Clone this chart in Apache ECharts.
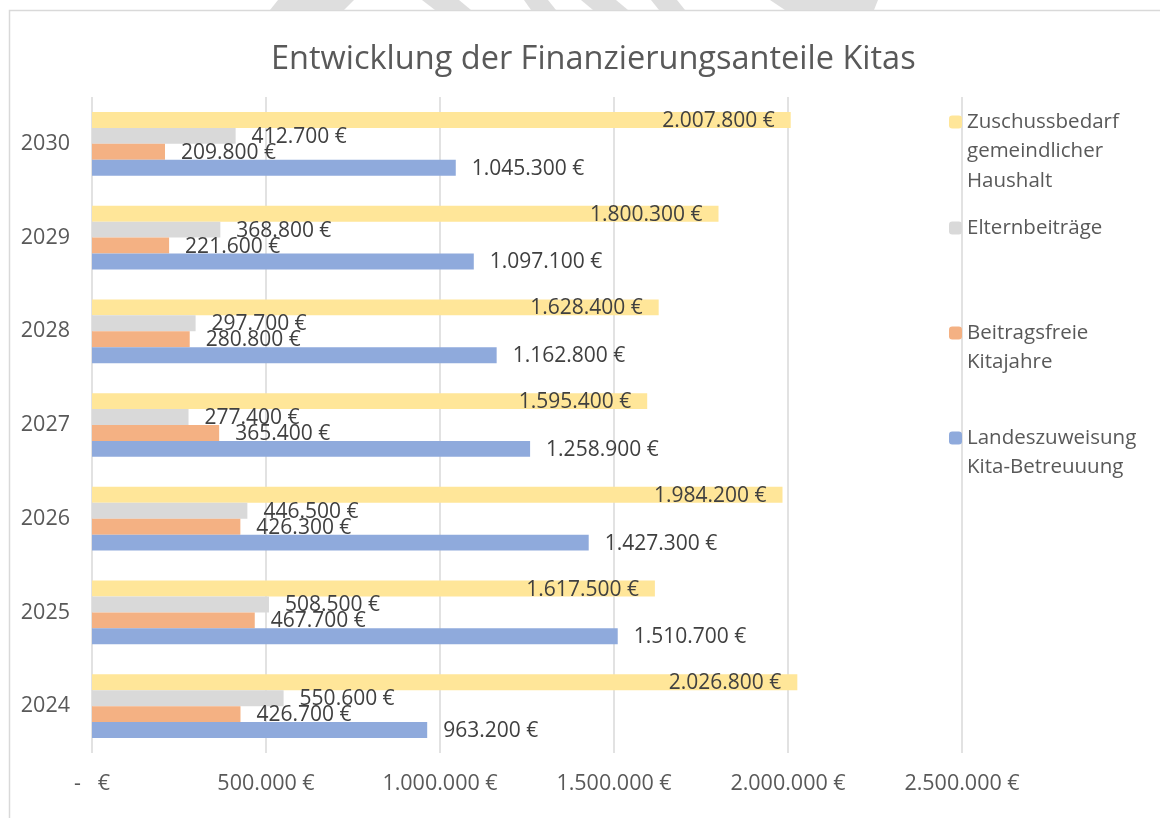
<!DOCTYPE html>
<html>
<head>
<meta charset="utf-8">
<script src="https://cdn.jsdelivr.net/npm/echarts@6/dist/echarts.min.js"></script>
<style>
  body { margin: 0; background: #fff; }
  #chart { width: 1160px; height: 818px; }
</style>
</head>
<body>
<div id="chart"></div>
<script>
// Daten
var years = ['2024', '2025', '2026', '2027', '2028', '2029', '2030']
var landeszuweisung = [963200, 1510700, 1427300, 1258900, 1162800, 1097100, 1045300]
var beitragsfrei = [426700, 467700, 426300, 365400, 280800, 221600, 209800]
var elternbeitraege = [550600, 508500, 446500, 277400, 297700, 368800, 412700]
var zuschussbedarf = [2026800, 1617500, 1984200, 1595400, 1628400, 1800300, 2007800]
var xTicks = [0, 500000, 1000000, 1500000, 2000000, 2500000]

var FONT = '"Open Sans", "Noto Sans", sans-serif'
var LH = 29.5

function euro (v) {
  if (v === 0) return '-   €'
  return String(v).replace(/\B(?=(\d{3})+(?!\d))/g, '.') + ' €'
}

var names = {
  zu: 'Zuschussbedarf\ngemeindlicher\nHaushalt',
  el: 'Elternbeiträge',
  bf: 'Beitragsfreie\nKitajahre',
  la: 'Landeszuweisung\nKita-Betreuuung'
}

// Legendeneintrag: Symbol auf Höhe der ersten Zeile (wie Excel)
function legendFor (name, iconCenter) {
  var n = name.split('\n').length
  return {
    left: 949,
    top: iconCenter - (2 * n - 1) * LH / 2,
    padding: 0,
    itemWidth: 13,
    itemHeight: 13,
    selectedMode: false,
    data: [name],
    formatter: function (s) {
      return new Array(n).join('\n') + s
    },
    textStyle: {
      fontFamily: FONT,
      fontSize: 20.5,
      lineHeight: LH,
      color: '#595959'
    }
  }
}

function barSeries (name, data, color, inside) {
  return {
    name: name,
    type: 'bar',
    data: data,
    barGap: '0%',
    barCategoryGap: '32%',
    itemStyle: { color: color },
    label: {
      show: true,
      position: inside ? 'insideRight' : 'right',
      distance: 16,
      offset: [0, 1],
      formatter: function (p) { return euro(p.value) },
      fontFamily: FONT,
      fontSize: 21,
      color: '#404040'
    }
  }
}

var chart = echarts.init(document.getElementById('chart'))

var option = {
  backgroundColor: '#fff',
  animation: false,
  title: {
    text: 'Entwicklung der Finanzierungsanteile Kitas',
    left: 266,
    top: 38,
    textStyle: {
      fontFamily: FONT,
      fontSize: 32.5,
      fontWeight: 'normal',
      color: '#595959'
    }
  },
  legend: [
    legendFor(names.zu, 122),
    legendFor(names.el, 228),
    legendFor(names.bf, 333),
    legendFor(names.la, 438)
  ],
  grid: { left: 92, right: 198, top: 97, bottom: 65 },
  xAxis: {
    type: 'value',
    min: xTicks[0],
    max: xTicks[xTicks.length - 1],
    interval: xTicks[1] - xTicks[0],
    axisLine: { show: false },
    axisTick: { show: false },
    splitLine: { lineStyle: { color: '#d9d9d9', width: 1.5 } },
    axisLabel: {
      margin: 20,
      formatter: euro,
      fontFamily: FONT,
      fontSize: 21.5,
      color: '#595959'
    }
  },
  yAxis: {
    type: 'category',
    data: years,
    axisLine: { show: false },
    axisTick: { show: false },
    axisLabel: {
      margin: 22,
      fontFamily: FONT,
      fontSize: 21.5,
      color: '#595959'
    }
  },
  graphic: [
    {
      type: 'rect',
      shape: { x: 9.5, y: 10.5, width: 1200, height: 900 },
      style: { fill: 'none', stroke: '#d9d9d9', lineWidth: 1.5 },
      silent: true,
      z: -10
    },
    { type: 'polygon', shape: { points: [[278, 0], [354, 0], [344, 10], [270, 10]] }, style: { fill: '#dedede' }, silent: true },
    { type: 'polygon', shape: { points: [[422, 0], [459, 0], [471, 10], [435, 10]] }, style: { fill: '#dedede' }, silent: true },
    { type: 'polygon', shape: { points: [[524, 0], [548, 0], [556, 10], [531, 10]] }, style: { fill: '#dedede' }, silent: true },
    { type: 'polygon', shape: { points: [[581, 0], [616, 0], [628, 10], [593, 10]] }, style: { fill: '#dedede' }, silent: true },
    { type: 'polygon', shape: { points: [[651, 0], [677, 0], [685, 10], [659, 10]] }, style: { fill: '#dedede' }, silent: true },
    { type: 'polygon', shape: { points: [[770, 0], [878, 0], [874, 10], [785, 10]] }, style: { fill: '#dedede' }, silent: true }
  ],
  series: [
    barSeries(names.zu, zuschussbedarf, '#ffe699', true),
    barSeries(names.el, elternbeitraege, '#d9d9d9', false),
    barSeries(names.bf, beitragsfrei, '#f4b183', false),
    barSeries(names.la, landeszuweisung, '#8faadc', false)
  ]
}

chart.setOption(option)
</script>
</body>
</html>
